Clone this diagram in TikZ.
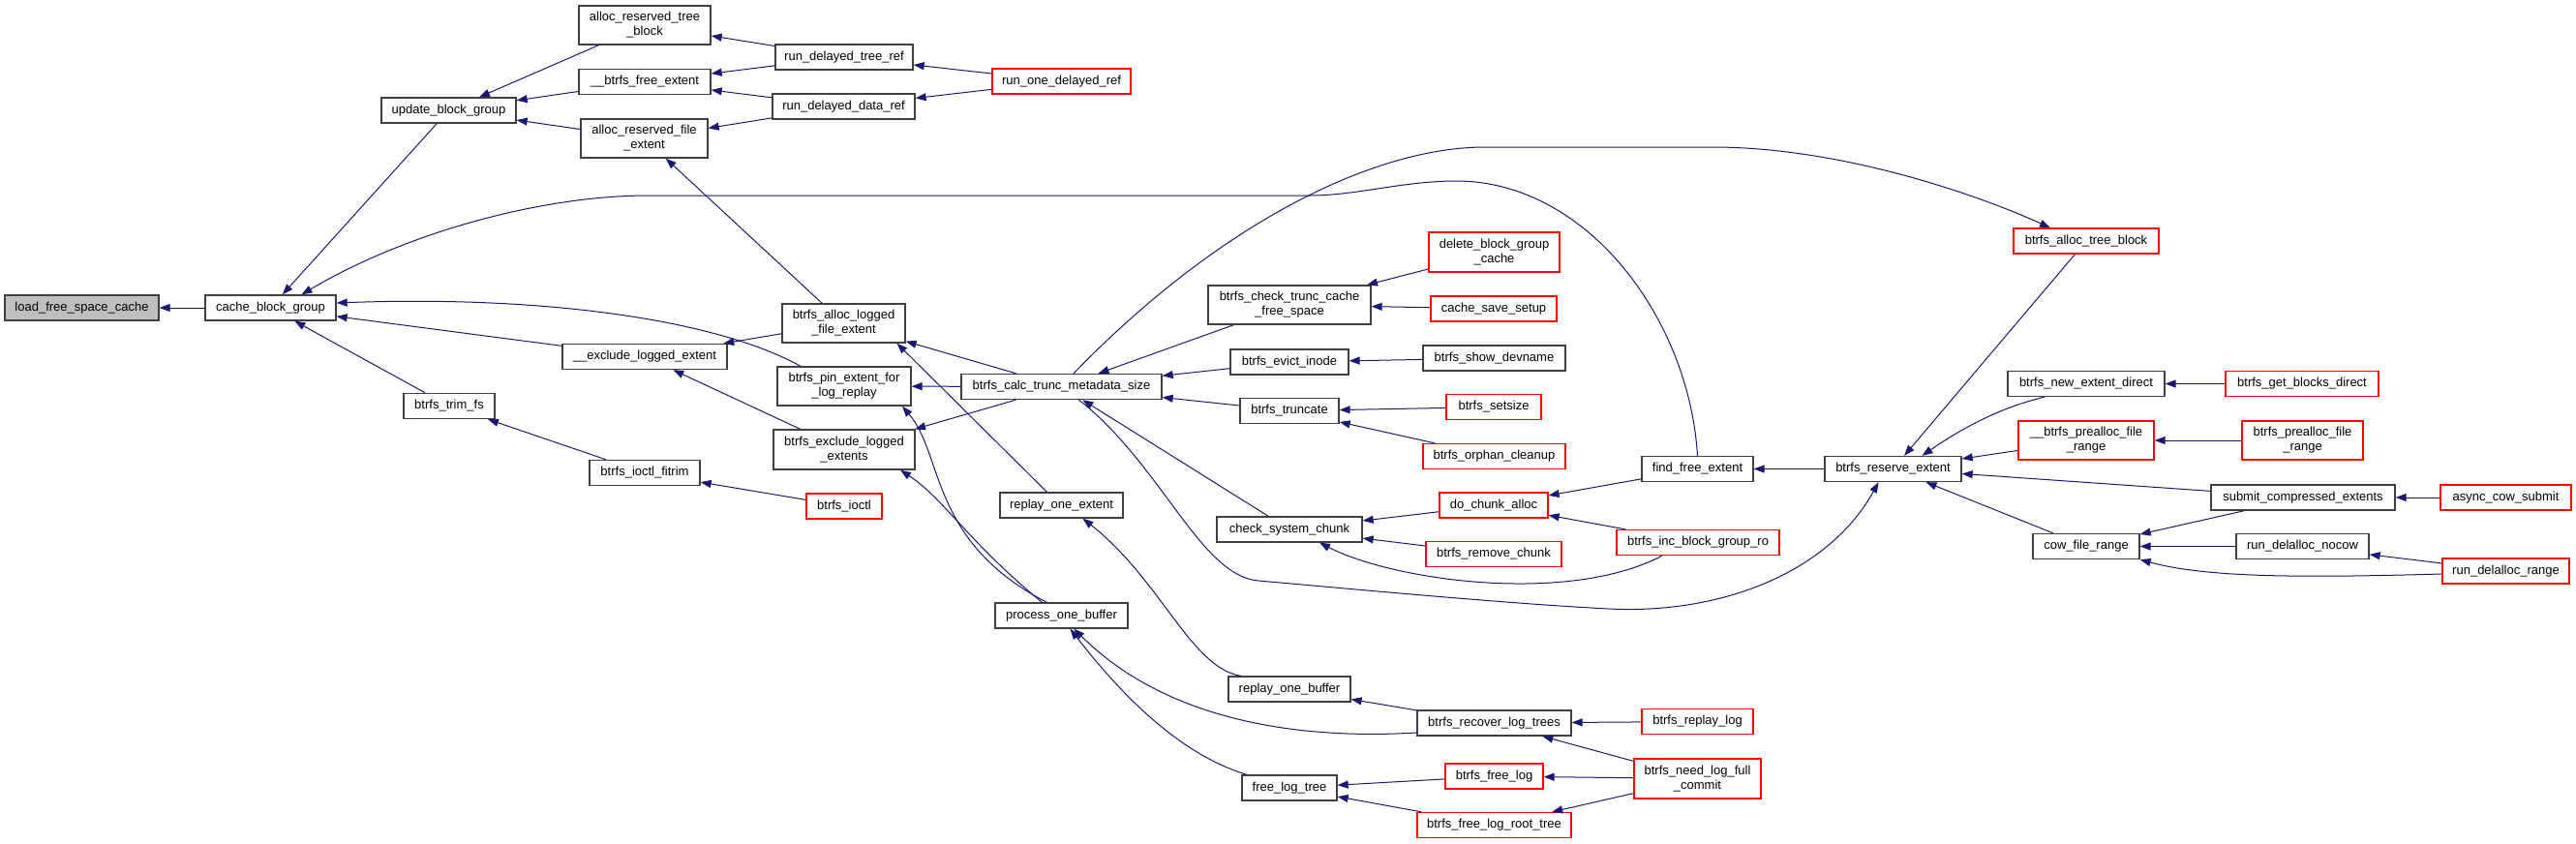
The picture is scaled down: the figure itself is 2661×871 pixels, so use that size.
\documentclass[tikz,border=0pt]{standalone}
\usepackage{fontspec}
\setmainfont{Liberation Sans}
\usetikzlibrary{arrows.meta}
\definecolor{EdgeBlue}{HTML}{191970}
\definecolor{BoxLine}{HTML}{404040}
\definecolor{BoxRed}{HTML}{FF0000}
\definecolor{RootFill}{HTML}{BFBFBF}

\begin{document}
\begin{tikzpicture}[
  x=1pt,y=-1pt,
  box/.style={draw=BoxLine,fill=white,line width=1.3pt,minimum height=26pt,
              inner xsep=3pt,inner ysep=2pt,align=center,
              font=\fontsize{13}{15}\selectfont},
  tall/.style={minimum height=40pt},
  boxred/.style={box,draw=BoxRed},
  boxroot/.style={box,fill=RootFill},
  arrow/.style={{Triangle[length=11pt,width=8pt]}-,line width=1pt,color=EdgeBlue}
]
  \useasboundingbox (0,0) rectangle (2661,871);

  % callee on the left, callers to the right
  \node[boxroot,minimum width=159pt] (load) at (84.5,318) {load\_free\_space\_cache};
  \node[box,minimum width=135pt] (cbg) at (279.5,318) {cache\_block\_group};

  \node[box,minimum width=139pt] (ubg) at (463.5,114) {update\_block\_group};
  \node[box,minimum width=94pt] (trim) at (464,419.5) {btrfs\_trim\_fs};

  \node[box,tall,minimum width=136pt] (artb) at (666,26) {alloc\_reserved\_tree\\\_block};
  \node[box,minimum width=136pt] (bfe) at (666,84.5) {\_\_btrfs\_free\_extent};
  \node[box,tall,minimum width=131pt] (arfe) at (665.5,143) {alloc\_reserved\_file\\\_extent};
  \node[box,minimum width=170pt] (elx) at (666,368.5) {\_\_exclude\_logged\_extent};
  \node[box,minimum width=114pt] (fitrim) at (666,488.5) {btrfs\_ioctl\_fitrim};

  \node[box,minimum width=142pt] (rdtr) at (872,59) {run\_delayed\_tree\_ref};
  \node[box,minimum width=147pt] (rddr) at (871.5,110) {run\_delayed\_data\_ref};
  \node[box,tall,minimum width=127pt] (alfe) at (871.5,334) {btrfs\_alloc\_logged\\\_file\_extent};
  \node[box,tall,minimum width=138pt] (pin) at (872,399) {btrfs\_pin\_extent\_for\\\_log\_replay};
  \node[box,minimum height=41pt,minimum width=146pt] (exls) at (872,464.5) {btrfs\_exclude\_logged\\\_extents};
  \node[boxred,minimum width=78pt] (ioctl) at (872,523) {btrfs\_ioctl};

  \node[boxred,minimum width=143pt] (rodr) at (1096.5,84) {run\_one\_delayed\_ref};
  \node[box,minimum width=207pt] (calc) at (1096.5,399.5) {btrfs\_calc\_trunc\_metadata\_size};
  \node[box,minimum width=127pt] (roe) at (1096.5,522) {replay\_one\_extent};
  \node[box,minimum width=137pt] (pob) at (1096.5,636) {process\_one\_buffer};

  \node[box,tall,minimum width=168pt] (ctc) at (1332,315) {btrfs\_check\_trunc\_cache\\\_free\_space};
  \node[box,minimum width=122pt] (evict) at (1332,374) {btrfs\_evict\_inode};
  \node[box,minimum width=102pt] (truncate) at (1332,424.5) {btrfs\_truncate};
  \node[box,minimum width=150pt] (csc) at (1332,547) {check\_system\_chunk};
  \node[box,minimum width=126pt] (rob) at (1332,712) {replay\_one\_buffer};
  \node[box,minimum width=98pt] (flt) at (1332,814) {free\_log\_tree};

  \node[boxred,minimum height=41pt,minimum width=135pt] (dbgc) at (1543.5,260.5) {delete\_block\_group\\\_cache};
  \node[boxred,minimum width=130pt] (css) at (1543,319) {cache\_save\_setup};
  \node[box,minimum width=147pt] (sdn) at (1543.5,370) {btrfs\_show\_devname};
  \node[boxred,minimum width=98pt] (setsize) at (1543,420.5) {btrfs\_setsize};
  \node[boxred,minimum width=147pt] (orphan) at (1543.5,471.5) {btrfs\_orphan\_cleanup};
  \node[boxred,minimum width=112pt] (dca) at (1543,522) {do\_chunk\_alloc};
  \node[boxred,minimum width=140pt] (rmc) at (1543,572.5) {btrfs\_remove\_chunk};
  \node[box,minimum width=159pt] (rlt) at (1543.5,747) {btrfs\_recover\_log\_trees};
  \node[boxred,minimum width=101pt] (bfl) at (1543.5,802) {btrfs\_free\_log};
  \node[boxred,minimum width=159pt] (bflrt) at (1543.5,852.5) {btrfs\_free\_log\_root\_tree};

  \node[box,minimum width=115pt] (ffe) at (1753.5,484.5) {find\_free\_extent};
  \node[boxred,minimum width=168pt] (ibgro) at (1754,560.5) {btrfs\_inc\_block\_group\_ro};
  \node[boxred,minimum width=115pt] (brl) at (1753.5,745.5) {btrfs\_replay\_log};
  \node[boxred,minimum height=41pt,minimum width=131pt] (nlfc) at (1753.5,804.5) {btrfs\_need\_log\_full\\\_commit};

  \node[box,minimum width=141pt] (bre) at (1955.5,484.5) {btrfs\_reserve\_extent};

  \node[boxred,minimum width=150pt] (batb) at (2155,249) {btrfs\_alloc\_tree\_block};
  \node[box,minimum width=162pt] (ned) at (2155,396.5) {btrfs\_new\_extent\_direct};
  \node[boxred,tall,minimum width=140pt] (bpfr) at (2155,455) {\_\_btrfs\_prealloc\_file\\\_range};
  \node[box,minimum width=110pt] (cfr) at (2155,564.5) {cow\_file\_range};

  \node[boxred,minimum width=158pt] (gbd) at (2378,396.5) {btrfs\_get\_blocks\_direct};
  \node[boxred,tall,minimum width=125pt] (pfr) at (2378.5,455) {btrfs\_prealloc\_file\\\_range};
  \node[box,minimum width=190pt] (sce) at (2379,514) {submit\_compressed\_extents};
  \node[box,minimum width=137pt] (rdn) at (2378.5,564.5) {run\_delalloc\_nocow};

  \node[boxred,minimum width=135pt] (acs) at (2588.5,514) {async\_cow\_submit};
  \node[boxred,minimum width=131pt] (rdr) at (2588.5,590) {run\_delalloc\_range};

  % edges, tip at the callee
  \draw[arrow] (load) -- (cbg);
  \draw[arrow] (cbg) -- (ubg);
  \draw[arrow] ([xshift=32pt]cbg.north) .. controls (420,240) and (560,202) .. (670,202) -- (1354,202)
    .. controls (1400,202) and (1450,187) .. (1504,187) .. controls (1640,187) and (1745,330) .. (ffe.north);
  \draw[arrow] ([yshift=5pt]cbg.east) .. controls (560,305) and (740,330) .. ([xshift=-45pt]pin.north);
  \draw[arrow] (cbg) -- (elx);
  \draw[arrow] (cbg) -- (trim);
  \draw[arrow] (ubg) -- (artb);
  \draw[arrow] (ubg) -- (bfe);
  \draw[arrow] (ubg) -- (arfe);
  \draw[arrow] (artb) -- (rdtr);
  \draw[arrow] (bfe) -- (rdtr);
  \draw[arrow] (bfe) -- (rddr);
  \draw[arrow] (arfe) -- (rddr);
  \draw[arrow] (rdtr) -- (rodr);
  \draw[arrow] (rddr) -- (rodr);
  \draw[arrow] (arfe) -- (alfe);
  \draw[arrow] (elx) -- (alfe);
  \draw[arrow] (elx) -- (exls);
  \draw[arrow] (alfe) -- (calc);
  \draw[arrow] ([xshift=55pt]alfe.south) -- ([xshift=-15pt]roe.north);
  \draw[arrow] (pin) -- (calc);
  \draw[arrow] ([xshift=60pt]pin.south) .. controls (975,470) and (960,560) .. ([xshift=-15pt]pob.north);
  \draw[arrow] (exls) -- (calc);
  \draw[arrow] ([xshift=58pt]exls.south) .. controls (975,515) and (1000,560) .. ([xshift=-20pt]pob.north);
  \draw[arrow] (trim) -- (fitrim);
  \draw[arrow] (fitrim) -- (ioctl);
  \draw[arrow] (calc) -- (ctc);
  \draw[arrow] (calc) -- (evict);
  \draw[arrow] (calc) -- (truncate);
  \draw[arrow] (calc) -- (csc);
  \draw[arrow] ([xshift=-15pt]bre.south) .. controls (1890,590) and (1780,635) .. (1662,629)
    .. controls (1560,624) and (1380,607) .. (1300,600) .. controls (1240,595) and (1200,480) .. ([xshift=18pt]calc.south);
  \draw[arrow] ([xshift=-37pt]batb.north) .. controls (2040,200) and (1900,152) .. (1769,152) -- (1534,152)
    .. controls (1420,152) and (1260,230) .. ([xshift=12.5pt]calc.north);
  \draw[arrow] (ctc) -- (dbgc);
  \draw[arrow] (ctc) -- (css);
  \draw[arrow] (evict) -- (sdn);
  \draw[arrow] (truncate) -- (setsize);
  \draw[arrow] (truncate) -- (orphan);
  \draw[arrow] (csc) -- (dca);
  \draw[arrow] (csc) -- (rmc);
  \draw[arrow] ([xshift=31pt]csc.south) .. controls (1440,600) and (1620,625) .. ([xshift=-37pt]ibgro.south);
  \draw[arrow] (dca) -- (ffe);
  \draw[arrow] (dca) -- (ibgro);
  \draw[arrow] (ffe) -- (bre);
  \draw[arrow] (bre) -- (batb);
  \draw[arrow] ([xshift=30pt]bre.north) .. controls (2030,440) and (2070,420) .. ([xshift=-43pt]ned.south);
  \draw[arrow] (bre) -- (bpfr);
  \draw[arrow] (bre) -- (sce);
  \draw[arrow] (bre) -- (cfr);
  \draw[arrow] (ned) -- (gbd);
  \draw[arrow] (bpfr) -- (pfr);
  \draw[arrow] (sce) -- (acs);
  \draw[arrow] (cfr) -- (sce);
  \draw[arrow] (cfr) -- (rdn);
  \draw[arrow] (cfr.south east) .. controls (2280,597) and (2380,597) .. ([yshift=-3pt]rdr.west);
  \draw[arrow] (rdn) -- (rdr);
  \draw[arrow] ([xshift=13pt]pob.south) .. controls (1200,740) and (1330,765) .. ([yshift=-10pt]rlt.west);
  \draw[arrow] ([xshift=9pt]pob.south) .. controls (1160,720) and (1220,780) .. ([xshift=-44pt]flt.north);
  \draw[arrow] ([xshift=22pt]roe.south) .. controls (1200,600) and (1230,690) .. ([xshift=-50pt]rob.north);
  \draw[arrow] (rob) -- (rlt);
  \draw[arrow] (rlt) -- (brl);
  \draw[arrow] (rlt) -- (nlfc);
  \draw[arrow] (flt) -- (bfl);
  \draw[arrow] (flt) -- (bflrt);
  \draw[arrow] (bfl) -- (nlfc);
  \draw[arrow] (bflrt) -- (nlfc);
\end{tikzpicture}
\end{document}
